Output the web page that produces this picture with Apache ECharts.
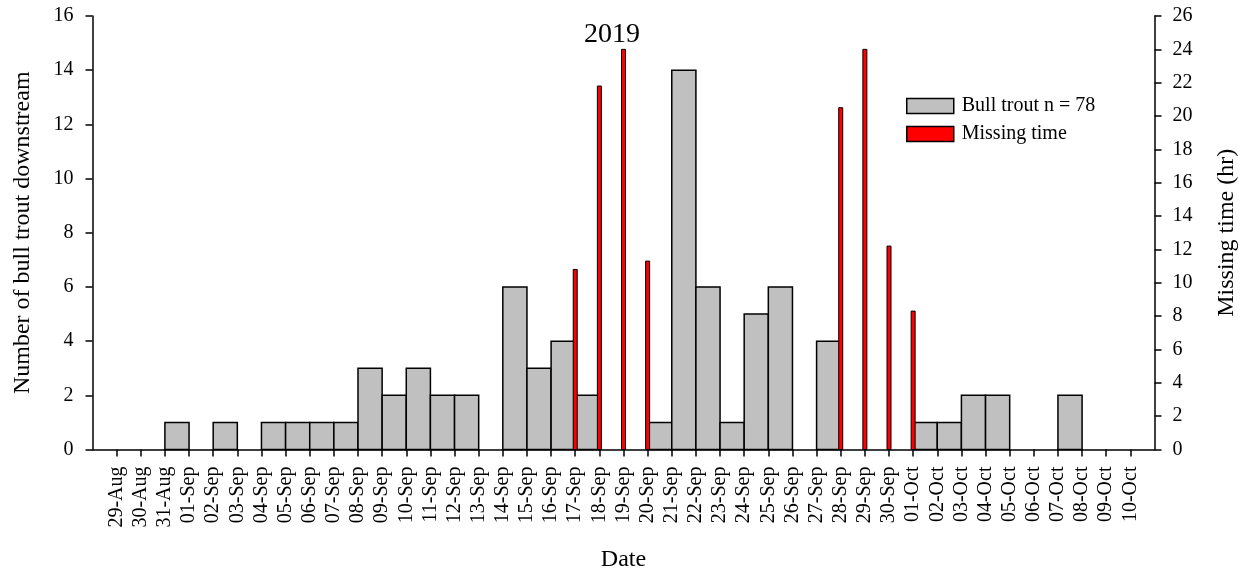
<!DOCTYPE html>
<html>
<head>
<meta charset="utf-8">
<script src="https://cdn.jsdelivr.net/npm/echarts@6/dist/echarts.min.js"></script>
<style>
  html, body { margin: 0; padding: 0; background: #fff; }
  #chart { width: 1250px; height: 576px; }
</style>
</head>
<body>
<div id="chart"></div>
<script>
// Day slots; the first and last are blank padding so bars span tick to tick
const dates = ['28-Aug',
  '29-Aug','30-Aug','31-Aug','01-Sep','02-Sep','03-Sep','04-Sep','05-Sep','06-Sep','07-Sep',
  '08-Sep','09-Sep','10-Sep','11-Sep','12-Sep','13-Sep','14-Sep','15-Sep','16-Sep','17-Sep',
  '18-Sep','19-Sep','20-Sep','21-Sep','22-Sep','23-Sep','24-Sep','25-Sep','26-Sep','27-Sep',
  '28-Sep','29-Sep','30-Sep','01-Oct','02-Oct','03-Oct','04-Oct','05-Oct','06-Oct','07-Oct',
  '08-Oct','09-Oct','10-Oct',
  '11-Oct'];

// Bull trout moving downstream, per day (bar spans from its date to the next)
const troutCounts = [0,
  0,0,1,0,1,0,1,1,1,1,
  3,2,3,2,2,0,6,3,4,2,
  0,0,1,14,6,1,5,6,0,4,
  0,0,0,1,1,2,2,0,0,2,
  0,0,0,
  0];

// Hours of missing record, per day
const missingHours = [0,
  0,0,0,0,0,0,0,0,0,0,
  0,0,0,0,0,0,0,0,0,10.8,
  21.8,24,11.3,0,0,0,0,0,0,0,
  20.5,24,12.2,8.3,0,0,0,0,0,0,
  0,0,0,
  0];

const leftTicks = [0, 16, 2];
const rightTicks = [0, 26, 2];

const FONT = '"Liberation Serif", "Times New Roman", serif';

const troutData = troutCounts.map((v, i) => [i, v]);
const missingData = missingHours.map((v, i) => [i, v]);

const chart = echarts.init(document.getElementById('chart'));

const innerTick = (idx) => idx > 0 && idx < dates.length - 1;

// plot frame
const G = { left: 92.5, right: 95.5, top: 16, bottom: 126.5 };
const midY = G.top + (576 - G.top - G.bottom) / 2;
const midX = G.left + (1250 - G.left - G.right) / 2;

chart.setOption({
  animation: false,
  grid: Object.assign({ containLabel: false }, G),
  legend: {
    left: 901, top: 91, orient: 'vertical',
    itemWidth: 47, itemHeight: 15, itemGap: 8,
    textStyle: { fontFamily: FONT, fontSize: 20, color: '#000', padding: [0, 0, 0, 3] },
    data: [
      { name: 'Bull trout n = 78', icon: 'rect', itemStyle: { color: '#c0c0c0', borderColor: '#000', borderWidth: 1.5 } },
      { name: 'Missing time', icon: 'rect', itemStyle: { color: '#ff0000', borderColor: '#000', borderWidth: 1.5 } }
    ]
  },
  xAxis: {
    type: 'category',
    data: dates,
    boundaryGap: false,
    axisLine: { lineStyle: { color: '#000', width: 1.5 } },
    axisTick: { interval: innerTick, length: 7, lineStyle: { color: '#000', width: 1.5 } },
    axisLabel: {
      interval: innerTick, rotate: 90, margin: 17,
      fontFamily: FONT, fontSize: 20, color: '#000'
    },
    splitLine: { show: false }
  },
  yAxis: [
    {
      type: 'value', min: leftTicks[0], max: leftTicks[1], interval: leftTicks[2],
      axisLine: { show: true, lineStyle: { color: '#000', width: 1.5 } },
      axisTick: { show: true, length: 7, lineStyle: { color: '#000', width: 1.5 } },
      axisLabel: { margin: 19, fontFamily: FONT, fontSize: 20, color: '#000' },
      splitLine: { show: false }
    },
    {
      type: 'value', min: rightTicks[0], max: rightTicks[1], interval: rightTicks[2],
      position: 'right',
      axisLine: { show: true, lineStyle: { color: '#000', width: 1.5 } },
      axisTick: { show: true, length: 7, lineStyle: { color: '#000', width: 1.5 } },
      axisLabel: { margin: 18, fontFamily: FONT, fontSize: 20, color: '#000' },
      splitLine: { show: false }
    }
  ],
  graphic: [
    { type: 'text', x: 612, y: 35, style: { text: '2019', font: '28px ' + FONT, fill: '#000', align: 'center', verticalAlign: 'middle' } },
    { type: 'text', x: midX, y: 560, style: { text: 'Date', font: '24px ' + FONT, fill: '#000', align: 'center', verticalAlign: 'middle' } },
    { type: 'text', x: 23, y: midY, rotation: Math.PI / 2, style: { text: 'Number of bull trout downstream', font: '24px ' + FONT, fill: '#000', align: 'center', verticalAlign: 'middle' } },
    { type: 'text', x: 1227, y: midY, rotation: Math.PI / 2, style: { text: 'Missing time (hr)', font: '24px ' + FONT, fill: '#000', align: 'center', verticalAlign: 'middle' } }
  ],
  series: [
    {
      name: 'Bull trout n = 78',
      type: 'custom',
      xAxisIndex: 0, yAxisIndex: 0,
      itemStyle: { color: '#c0c0c0' },
      data: troutData,
      renderItem: function (params, api) {
        const i = api.value(0), v = api.value(1);
        if (!v) return null;
        const p0 = api.coord([i, v]);
        const p1 = api.coord([i + 1, 0]);
        return {
          type: 'rect',
          shape: { x: p0[0], y: p0[1], width: p1[0] - p0[0], height: p1[1] - p0[1] },
          style: { fill: '#c0c0c0', stroke: '#000', lineWidth: 1.5 }
        };
      },
      z: 2
    },
    {
      name: 'Missing time',
      type: 'custom',
      xAxisIndex: 0, yAxisIndex: 1,
      itemStyle: { color: '#ff0000' },
      data: missingData,
      renderItem: function (params, api) {
        const i = api.value(0), v = api.value(1);
        if (!v) return null;
        const top = api.coord([i, v]);
        const base = api.coord([i, 0]);
        const w = 4;
        return {
          type: 'rect',
          shape: { x: top[0] - w / 2, y: top[1], width: w, height: base[1] - top[1] },
          style: { fill: '#ff0000', stroke: '#000', lineWidth: 1 }
        };
      },
      z: 3
    }
  ]
});
</script>
</body>
</html>
